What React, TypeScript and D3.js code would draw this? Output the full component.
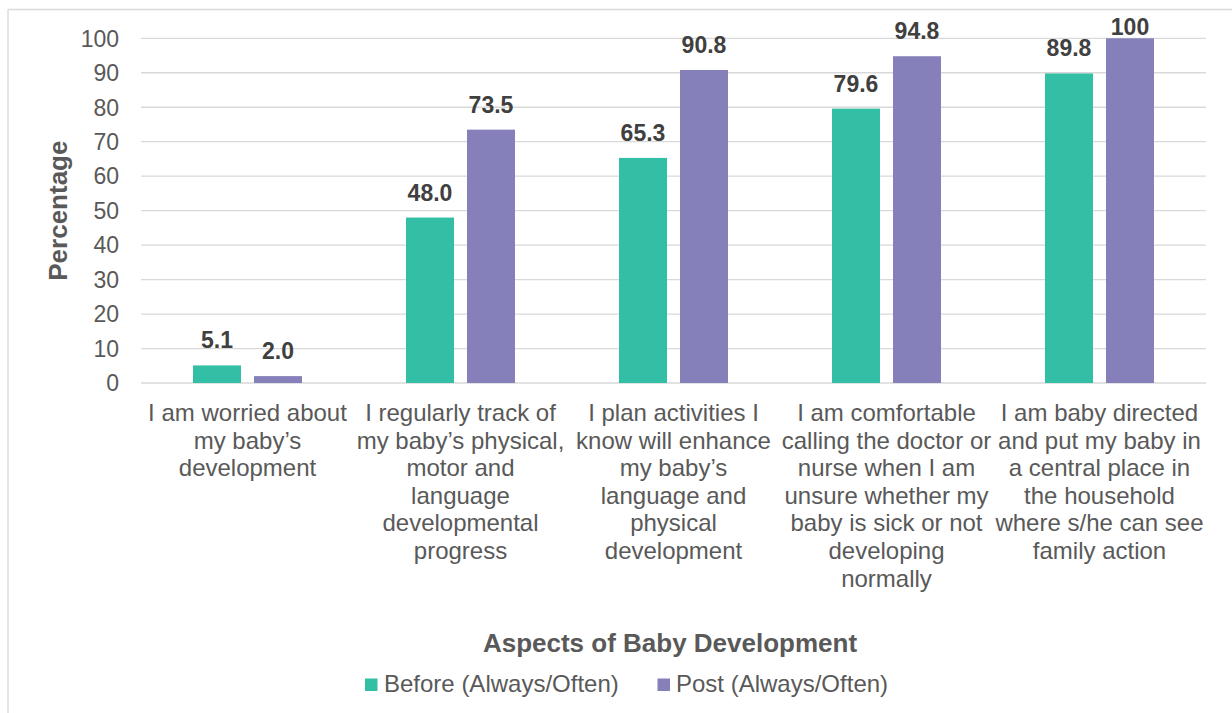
import React from "react";
import * as d3 from "d3";

const categories: string[][] = [
  ["I am worried about", "my baby\u2019s", "development"],
  ["I regularly track of", "my baby\u2019s physical,", "motor and", "language", "developmental", "progress"],
  ["I plan activities I", "know will enhance", "my baby\u2019s", "language and", "physical", "development"],
  ["I am comfortable", "calling the doctor or", "nurse when I am", "unsure whether my", "baby is sick or not", "developing", "normally"],
  ["I am baby directed", "and put my baby in", "a central place in", "the household", "where s/he can see", "family action"],
];
const seriesNames = ["Before (Always/Often)", "Post (Always/Often)"];
const beforeValues = [5.1, 48.0, 65.3, 79.6, 89.8];
const postValues = [2.0, 73.5, 90.8, 94.8, 100];
const labelBefore = ["5.1", "48.0", "65.3", "79.6", "89.8"];
const labelPost = ["2.0", "73.5", "90.8", "94.8", "100"];
const yTicks = [0, 10, 20, 30, 40, 50, 60, 70, 80, 90, 100];
const colors = ["#33BEA6", "#8580BA"];

const FONT = "'Liberation Sans', Arial, Helvetica, sans-serif";
const W = 1232;
const H = 713;

export default function App() {
  const left = 141;
  const right = 1206;
  const top = 38.3;
  const bottom = 383;
  const idx = categories.map((_, i) => String(i));
  const x = d3.scaleBand<string>().domain(idx).range([left, right]).paddingInner(0).paddingOuter(0);
  const y = d3.scaleLinear().domain([0, 100]).range([bottom, top]);
  const groupW = 109;
  const xSub = d3.scaleBand<string>().domain(["0", "1"]).range([0, groupW]).paddingInner(0.213).paddingOuter(0);
  const seriesVals = [beforeValues, postValues];
  const seriesLabels = [labelBefore, labelPost];

  return (
    <svg width={W} height={H} style={{ position: "absolute", left: 0, top: 0, background: "#fff" }} fontFamily={FONT}>
      <rect x={0} y={0} width={W} height={H} fill="#fff" />
      {/* chart border */}
      <line x1={8} x2={W + 10} y1={9.5} y2={9.5} stroke="#D9D9D9" strokeWidth={1.3} />
      <line x1={8} x2={8} y1={9.5} y2={H + 10} stroke="#D9D9D9" strokeWidth={1.3} />
      {/* gridlines */}
      {yTicks.map((t) => (
        <line key={t} x1={left} x2={right} y1={y(t)} y2={y(t)} stroke="#D9D9D9" strokeWidth={1.3} />
      ))}
      {yTicks.map((t) => (
        <text key={"t" + t} x={119} y={y(t)} dy="0.36em" textAnchor="end" fontSize={23} fill="#595959">
          {t}
        </text>
      ))}
      {/* bars */}
      {idx.map((c, i) => {
        const cx = (x(c) as number) + x.bandwidth() / 2;
        return (
          <g key={c}>
            {seriesVals.map((vals, s) => {
              const bx = cx - groupW / 2 + (xSub(String(s)) as number);
              return (
                <g key={s}>
                  <rect x={bx} y={y(vals[i])} width={xSub.bandwidth()} height={bottom - y(vals[i])} fill={colors[s]} />
                  <text
                    x={bx + xSub.bandwidth() / 2}
                    y={Math.max(y(vals[i]) - 17, 35)}
                    textAnchor="middle"
                    fontSize={23}
                    fontWeight="bold"
                    fill="#404040"
                  >
                    {seriesLabels[s][i]}
                  </text>
                </g>
              );
            })}
            <text x={cx} y={421} textAnchor="middle" fontSize={24} fill="#595959">
              {categories[i].map((line, k) => (
                <tspan key={k} x={cx} dy={k === 0 ? 0 : 27.6}>
                  {line}
                </tspan>
              ))}
            </text>
          </g>
        );
      })}
      {/* axis titles */}
      <text
        transform={`translate(67, ${(top + bottom) / 2}) rotate(-90)`}
        textAnchor="middle"
        fontSize={26}
        fontWeight="bold"
        fill="#595959"
      >
        Percentage
      </text>
      <text x={670} y={652} textAnchor="middle" fontSize={26} fontWeight="bold" fill="#595959">
        Aspects of Baby Development
      </text>
      {/* legend */}
      <rect x={365} y={678.5} width={12.5} height={12.5} fill={colors[0]} />
      <text x={384} y={691.5} fontSize={24} fill="#595959">
        {seriesNames[0]}
      </text>
      <rect x={657.5} y={678.5} width={12.5} height={12.5} fill={colors[1]} />
      <text x={676} y={691.5} fontSize={24} fill="#595959">
        {seriesNames[1]}
      </text>
    </svg>
  );
}
